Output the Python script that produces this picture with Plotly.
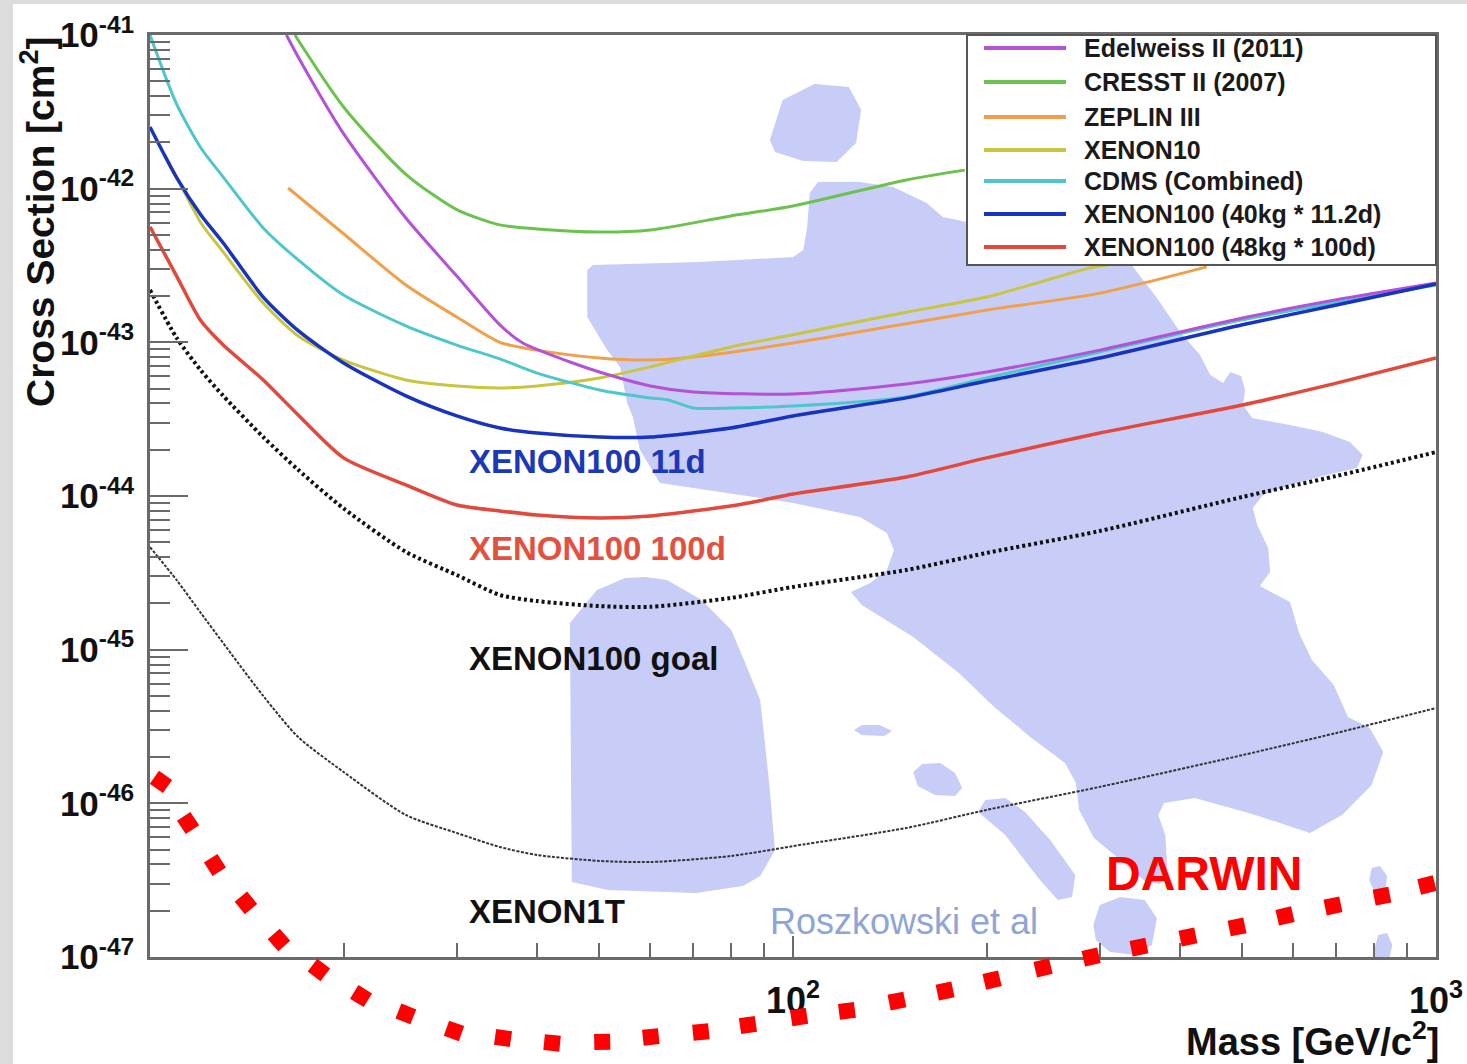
import numpy as np
import plotly.graph_objects as go

# ---------------- data ----------------
edelweiss_mass = [16.3, 17, 20, 25, 30, 35, 38, 45, 50, 60, 70, 100, 150, 200, 300, 500, 700, 1000]
edelweiss_xs = [1.0e-41, 7.2e-42, 2.28e-42, 6.44e-43, 2.7e-43, 1.30e-43, 9.9e-44, 7.45e-44, 6.41e-44,
                5.2e-44, 4.75e-44, 4.61e-44, 5.36e-44, 6.41e-44, 8.9e-44, 1.44e-43, 1.89e-43, 2.43e-43]

cresst_mass = [16.8, 20, 25, 30, 35, 40, 50, 60, 80, 100, 150, 185]
cresst_xs = [1.0e-41, 3.4e-42, 1.24e-42, 7.3e-43, 5.81e-43, 5.47e-43, 5.22e-43, 5.38e-43, 6.64e-43,
             7.71e-43, 1.14e-42, 1.32e-42]

zeplin_mass = [16.4, 20, 25, 30, 35, 40, 50, 60, 70, 100, 150, 200, 300, 440]
zeplin_xs = [1.01e-42, 5.09e-43, 2.36e-43, 1.46e-43, 1.0e-43, 8.9e-44, 7.9e-44, 7.67e-44, 8.03e-44,
             9.9e-44, 1.32e-43, 1.62e-43, 2.09e-43, 3.1e-43]

xenon10_mass = [10.55, 11.2, 12, 13, 15, 17, 20, 25, 30, 35, 40, 50, 60, 80, 100, 150, 200, 290, 322]
xenon10_xs = [1.66e-42, 1.03e-42, 5.98e-43, 3.87e-43, 1.80e-43, 1.10e-43, 7.67e-44, 5.69e-44, 5.2e-44,
              5.05e-44, 5.2e-44, 5.86e-44, 6.92e-44, 9.33e-44, 1.12e-43, 1.57e-43, 1.97e-43, 3.05e-43, 3.28e-43]

cdms_mass = [10, 11, 12, 13, 15, 17, 20, 25, 30, 35, 40, 50, 60, 64, 70, 80, 100, 150, 200, 300, 500, 1000]
cdms_xs = [1.0e-41, 3.55e-42, 1.84e-42, 1.19e-42, 5.55e-43, 3.44e-43, 2.03e-43, 1.28e-43, 9.6e-44, 7.8e-44,
           6.31e-44, 4.9e-44, 4.35e-44, 4.22e-44, 3.74e-44, 3.74e-44, 3.85e-44, 4.41e-44, 5.86e-44, 8.65e-44,
           1.40e-43, 2.36e-43]

x100_11d_mass = [10, 11, 12, 13, 15, 17, 20, 25, 30, 35, 40, 50, 60, 80, 100, 150, 200, 300, 500, 700, 1000]
x100_11d_xs = [2.52e-42, 1.18e-42, 6.74e-43, 4.43e-43, 1.97e-43, 1.19e-43, 7.34e-44, 4.48e-44, 3.32e-44,
               2.77e-44, 2.57e-44, 2.42e-44, 2.42e-44, 2.77e-44, 3.32e-44, 4.35e-44, 5.6e-44, 7.9e-44,
               1.30e-43, 1.75e-43, 2.4e-43]

x100_100d_mass = [10, 11, 12, 13, 15, 17, 20, 25, 30, 35, 40, 50, 60, 80, 90, 100, 150, 200, 300, 500, 700, 1000]
x100_100d_xs = [5.64e-43, 2.7e-43, 1.38e-43, 9.6e-44, 5.69e-44, 3.37e-44, 1.77e-44, 1.18e-44, 8.73e-45,
                8.0e-45, 7.52e-45, 7.19e-45, 7.41e-45, 8.61e-45, 9.42e-45, 1.03e-44, 1.33e-44, 1.77e-44,
                2.57e-44, 3.91e-44, 5.43e-44, 7.9e-44]

goal_mass = [10, 11, 12, 13, 15, 17, 20, 25, 30, 35, 40, 50, 60, 80, 100, 150, 200, 300, 500, 700, 1000]
goal_xs = [2.19e-43, 1.07e-43, 6.56e-44, 4.48e-44, 2.42e-44, 1.48e-44, 8.3e-45, 4.33e-45, 3.06e-45, 2.27e-45,
           2.07e-45, 1.92e-45, 1.9e-45, 2.17e-45, 2.56e-45, 3.3e-45, 4.26e-45, 5.92e-45, 9.86e-45,
           1.35e-44, 1.93e-44]

x1t_mass = [10, 11, 12, 15, 17, 20, 25, 30, 35, 40, 50, 60, 80, 100, 150, 200, 300, 500, 700, 1000]
x1t_xs = [4.65e-45, 2.84e-45, 1.73e-45, 5.0e-46, 2.7e-46, 1.6e-46, 8.4e-47, 6.41e-47, 5.2e-47, 4.61e-47,
          4.22e-47, 4.15e-47, 4.54e-47, 5.27e-47, 6.91e-47, 9.06e-47, 1.28e-46, 2.06e-46, 2.87e-46, 4.17e-46]

darwin_mass = [10.4, 11.46, 12.62, 14.1, 15.87, 18.31, 21.29, 25.0, 29.7, 35.4, 42.2, 50.5, 60.1, 71.9,
               85.1, 102.2, 121.3, 145.1, 172.4, 204, 244.8, 290.8, 345.2, 411.4, 490.4, 582.4, 691.5,
               824.1, 968]
darwin_xs = [1.38e-46, 7.45e-47, 3.97e-47, 2.25e-47, 1.29e-47, 8.23e-48, 5.57e-48, 4.26e-48, 3.3e-48,
             2.97e-48, 2.76e-48, 2.8e-48, 3.02e-48, 3.25e-48, 3.61e-48, 4.07e-48, 4.46e-48, 5.17e-48,
             6.01e-48, 7.08e-48, 8.49e-48, 1.0e-47, 1.16e-47, 1.35e-47, 1.57e-47, 1.85e-47, 2.15e-47,
             2.49e-47, 2.94e-47]

# Roszkowski et al. allowed region: outlines as (log10 mass, log10 cross-section)
region_main = [(1.680, -42.529), (1.689, -42.497), (1.855, -42.477), (2.000, -42.445), (2.016, -42.399),
               (2.022, -42.249), (2.026, -42.028), (2.039, -41.957), (2.104, -41.957), (2.156, -41.989),
               (2.208, -42.093), (2.233, -42.184), (2.271, -42.217), (2.400, -42.301), (2.516, -42.432),
               (2.529, -42.510), (2.566, -42.711), (2.602, -42.933), (2.633, -43.082), (2.649, -43.213),
               (2.669, -43.265), (2.680, -43.193), (2.697, -43.219), (2.703, -43.310), (2.700, -43.408),
               (2.714, -43.492), (2.773, -43.538), (2.824, -43.583), (2.866, -43.649), (2.886, -43.733),
               (2.877, -43.818), (2.824, -43.870), (2.773, -43.928), (2.731, -43.993), (2.715, -44.078),
               (2.722, -44.189), (2.739, -44.338), (2.742, -44.494), (2.726, -44.586), (2.773, -44.690),
               (2.787, -44.891), (2.807, -45.067), (2.841, -45.230), (2.863, -45.438), (2.897, -45.510),
               (2.918, -45.666), (2.900, -45.881), (2.854, -46.076), (2.804, -46.193), (2.714, -46.069),
               (2.625, -45.965), (2.577, -45.998), (2.568, -46.076), (2.579, -46.206), (2.582, -46.414),
               (2.571, -46.525), (2.547, -46.505), (2.513, -46.382), (2.468, -46.226), (2.445, -46.043),
               (2.440, -45.868), (2.423, -45.737), (2.369, -45.568), (2.313, -45.373), (2.258, -45.152),
               (2.187, -44.917), (2.107, -44.709), (2.090, -44.625), (2.120, -44.566), (2.146, -44.481),
               (2.157, -44.351), (2.146, -44.241), (2.104, -44.137), (2.000, -44.045), (1.897, -43.980),
               (1.793, -43.915), (1.762, -43.701), (1.751, -43.486), (1.742, -43.395), (1.731, -43.160),
               (1.711, -43.050), (1.680, -42.835)]
region_left = [(1.771, -44.527), (1.804, -44.547), (1.858, -44.677), (1.904, -44.872), (1.925, -45.080),
               (1.949, -45.327), (1.963, -45.868), (1.972, -46.304), (1.949, -46.473), (1.922, -46.538),
               (1.849, -46.583), (1.712, -46.564), (1.656, -46.512), (1.653, -44.826), (1.695, -44.612),
               (1.739, -44.534)]
region_top = [(1.964, -41.683), (1.984, -41.423), (2.033, -41.319), (2.087, -41.338), (2.106, -41.488),
              (2.098, -41.703), (2.068, -41.826), (2.016, -41.820), (1.972, -41.761)]
region_isl1 = [(2.095, -45.523), (2.107, -45.490), (2.135, -45.490), (2.154, -45.529), (2.142, -45.562),
               (2.107, -45.556)]
region_isl2 = [(2.187, -45.796), (2.201, -45.744), (2.229, -45.737), (2.252, -45.803), (2.263, -45.900),
               (2.252, -45.952), (2.221, -45.946), (2.194, -45.887)]
region_isl3 = [(2.299, -45.978), (2.330, -45.965), (2.361, -46.056), (2.400, -46.238), (2.439, -46.466),
               (2.434, -46.609), (2.412, -46.629), (2.384, -46.499), (2.330, -46.206), (2.288, -46.056)]
region_isl4 = [(2.467, -46.792), (2.477, -46.661), (2.509, -46.609), (2.547, -46.629), (2.566, -46.748),
               (2.558, -46.922), (2.532, -46.987), (2.493, -46.967), (2.471, -46.889)]
region_isl5 = [(2.896, -46.499), (2.900, -46.421), (2.913, -46.408), (2.924, -46.473), (2.921, -46.577),
               (2.905, -46.583)]
region_isl6 = [(2.904, -46.954), (2.910, -46.857), (2.924, -46.844), (2.932, -46.922), (2.928, -47.0),
               (2.905, -47.0)]
region_polygons = [region_main, region_left, region_top, region_isl1, region_isl2, region_isl3,
                   region_isl4, region_isl5, region_isl6]

legend_names = ["Edelweiss II (2011)", "CRESST II (2007)", "ZEPLIN III", "XENON10",
                "CDMS (Combined)", "XENON100 (40kg * 11.2d)", "XENON100 (48kg * 100d)"]
legend_colors = ["#b452d6", "#6cc24e", "#f0a04a", "#c9c53e", "#4ec6cc", "#1733c0", "#e2483c"]

x_tick_vals = [10, 100, 1000]
x_tick_text = ["", "10<sup>2</sup>", "10<sup>3</sup>"]
y_tick_vals = [1e-47, 1e-46, 1e-45, 1e-44, 1e-43, 1e-42, 1e-41]
y_tick_text = ["10<sup>-47</sup>", "10<sup>-46</sup>", "10<sup>-45</sup>", "10<sup>-44</sup>",
               "10<sup>-43</sup>", "10<sup>-42</sup>", "10<sup>-41</sup>"]

# ---------------- layout geometry ----------------
W, H = 1467, 1064
ML, MR, MT, MB = 150, 31, 35, 0          # paper area reaches the page bottom
FRAME_BOTTOM = 957                        # pixel row of the visible x axis
PW, PH = W - ML - MR, H - MT - MB
Y_TOP, Y_BOT = -41, -47                    # visible decades
DEC_PX = (FRAME_BOTTOM - MT) / (Y_TOP - Y_BOT)
Y2_BOT = Y_TOP - (H - MB - MT) / DEC_PX   # same scale, stretched to page bottom


def pxx(p):
    return (p - ML) / PW


def pxy(p):
    return (H - MB - p) / PH


FONT = "Liberation Sans, Arial, Helvetica, sans-serif"

fig = go.Figure()

# region
rx, ry = [], []
for poly in region_polygons:
    for lm, ls in poly:
        rx.append(10 ** lm)
        ry.append(10 ** ls)
    rx.append(None)
    ry.append(None)
fig.add_trace(go.Scatter(x=rx, y=ry, mode="lines", fill="toself", fillcolor="#c7cdf7",
                         line=dict(width=0, color="#c7cdf7"), hoverinfo="skip", showlegend=False))

# exclusion curves
curves = [
    (x1t_mass, x1t_xs, dict(color="#333333", width=2, dash="3px,1.5px")),
    (goal_mass, goal_xs, dict(color="#111111", width=4, dash="3px,3px")),
    (cresst_mass, cresst_xs, dict(color=legend_colors[1], width=3)),
    (zeplin_mass, zeplin_xs, dict(color=legend_colors[2], width=3)),
    (xenon10_mass, xenon10_xs, dict(color=legend_colors[3], width=3)),
    (cdms_mass, cdms_xs, dict(color=legend_colors[4], width=3)),
    (edelweiss_mass, edelweiss_xs, dict(color=legend_colors[0], width=3)),
    (x100_11d_mass, x100_11d_xs, dict(color=legend_colors[5], width=3.5)),
    (x100_100d_mass, x100_100d_xs, dict(color=legend_colors[6], width=3.5)),
]
for mx, sy, ln in curves:
    ln = dict(ln, shape="spline", smoothing=0.7)
    fig.add_trace(go.Scatter(x=mx, y=sy, mode="lines", line=ln, showlegend=False, hoverinfo="skip"))

# DARWIN projection on a hidden axis with the same scale that reaches the page bottom
fig.add_trace(go.Scatter(x=darwin_mass[:1], y=darwin_xs[:1], mode="markers", xaxis="x", yaxis="y2",
                         marker=dict(symbol="square", size=16, color="#ff0000", angle=35,
                                     line=dict(width=0)),
                         showlegend=False, hoverinfo="skip"))
fig.add_trace(go.Scatter(x=darwin_mass, y=darwin_xs, mode="markers", xaxis="x", yaxis="y2",
                         marker=dict(symbol="square", size=16, color="#ff0000", angleref="previous",
                                     line=dict(width=0)),
                         showlegend=False, hoverinfo="skip"))

# ---------------- shapes: page border + legend box ----------------
shapes = [
    dict(type="rect", xref="paper", yref="paper", x0=pxx(13), x1=pxx(W + 20), y0=pxy(H + 20), y1=pxy(4),
         fillcolor="white", line=dict(width=0), layer="below"),
    dict(type="rect", xref="paper", yref="paper", x0=pxx(967), x1=1, y0=pxy(265), y1=1,
         fillcolor="white", line=dict(color="#555555", width=2), layer="above"),
]
legend_rows = [48, 82, 117, 150, 181, 214, 247]
annotations = []
for name, col, row in zip(legend_names, legend_colors, legend_rows):
    shapes.append(dict(type="line", xref="paper", yref="paper", x0=pxx(984), x1=pxx(1066),
                       y0=pxy(row), y1=pxy(row), line=dict(color=col, width=4), layer="above"))
    annotations.append(dict(xref="paper", yref="paper", x=pxx(1082), y=pxy(row), xanchor="left",
                            yanchor="middle", text=name, showarrow=False,
                            font=dict(family=FONT, size=25, color="#1a1a1a", weight="bold")))

# in-plot labels
labels = [
    ("XENON100 11d", 467, 461, "#1a38b8", 33, "bold"),
    ("XENON100 100d", 467, 548, "#e4503e", 33, "bold"),
    ("XENON100 goal", 467, 658, "#111111", 33, "bold"),
    ("XENON1T", 467, 911, "#111111", 33, "bold"),
    ("Roszkowski et al", 768, 921, "#8ea5d6", 36, "normal"),
    ("DARWIN", 1104, 873, "#ff0000", 48, "bold"),
]
for txt, lx, ly, col, sz, wt in labels:
    annotations.append(dict(xref="paper", yref="paper", x=pxx(lx), y=pxy(ly), xanchor="left",
                            yanchor="middle", text=txt, showarrow=False,
                            font=dict(family=FONT, size=sz, color=col, weight=wt)))

# axis titles
annotations.append(dict(xref="paper", yref="paper", x=pxx(37), y=pxy(222), xanchor="center",
                        yanchor="middle", textangle=-90, text="Cross Section [cm<sup>2</sup>]",
                        showarrow=False, font=dict(family=FONT, size=39, color="#111111", weight="bold")))
annotations.append(dict(xref="paper", yref="paper", x=pxx(1441), y=pxy(1039), xanchor="right",
                        yanchor="middle", text="Mass [GeV/c<sup>2</sup>]",
                        showarrow=False, font=dict(family=FONT, size=38, color="#111111", weight="bold")))

x_minor = [m * 10 ** e for e in (1, 2) for m in range(2, 10)]
y_minor = [m * 10.0 ** e for e in range(Y_BOT, Y_TOP) for m in range(2, 10)]

fig.update_layout(
    width=W, height=H,
    margin=dict(l=ML, r=MR, t=MT, b=MB, pad=0, autoexpand=False),
    paper_bgcolor="#dcdcdc",
    plot_bgcolor="rgba(0,0,0,0)",
    showlegend=False,
    shapes=shapes,
    annotations=annotations,
    xaxis=dict(type="log", range=[1, 3], domain=[0, 1], anchor="y", showgrid=False, zeroline=False,
               automargin=False,
               showline=True, mirror=True, linecolor="#6a6a6a", linewidth=2.5,
               ticks="inside", ticklen=21, tickwidth=2, tickcolor="#6a6a6a",
               tickmode="array", tickvals=x_tick_vals, ticktext=x_tick_text,
               ticklabelstandoff=10,
               tickfont=dict(family=FONT, size=36, color="#111111", weight="bold"),
               minor=dict(ticks="inside", ticklen=14, tickwidth=2, tickcolor="#6a6a6a",
                          tickmode="array", tickvals=x_minor, showgrid=False)),
    yaxis=dict(type="log", range=[Y_BOT, Y_TOP], domain=[pxy(FRAME_BOTTOM), 1], anchor="x",
               showgrid=False, zeroline=False, automargin=False,
               showline=True, mirror=True, linecolor="#6a6a6a", linewidth=2.5,
               ticks="inside", ticklen=38, tickwidth=2, tickcolor="#6a6a6a",
               tickmode="array", tickvals=y_tick_vals, ticktext=y_tick_text,
               ticklabelstandoff=6,
               tickfont=dict(family=FONT, size=35, color="#111111", weight="bold"),
               minor=dict(ticks="inside", ticklen=20, tickwidth=2, tickcolor="#6a6a6a",
                          tickmode="array", tickvals=y_minor, showgrid=False)),
    yaxis2=dict(type="log", range=[Y2_BOT, Y_TOP], domain=[0, 1], anchor="x", visible=False,
                showgrid=False, zeroline=False, automargin=False),
)

fig.write_html("out.html")
